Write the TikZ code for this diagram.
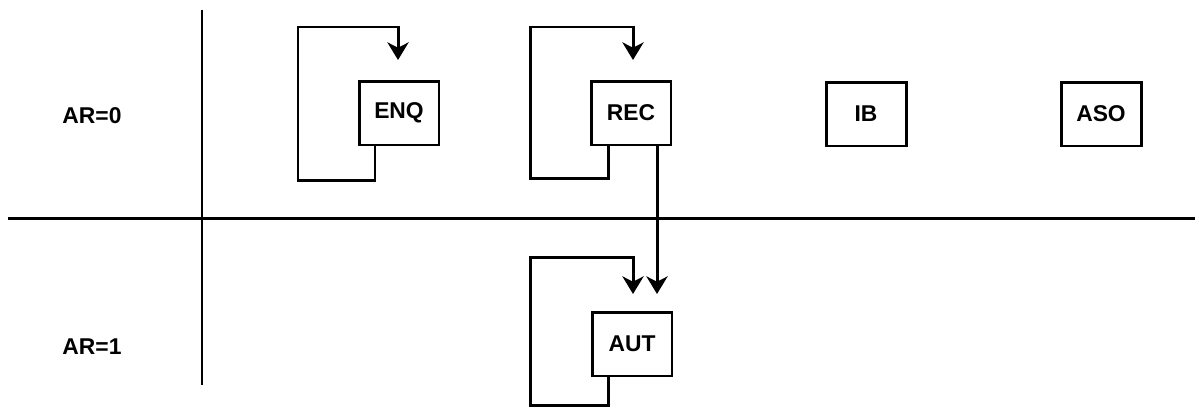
\documentclass[tikz,border=0pt]{standalone}
\usepackage{fontspec}
\setmainfont{Liberation Sans}
\usetikzlibrary{arrows.meta}

\begin{document}
\begin{tikzpicture}[x=0.02cm, y=-0.02cm, line width=1.7pt,
    state/.style={draw, line width=1.7pt, minimum width=1.6cm, minimum height=1.28cm, inner sep=0pt, font=\bfseries\fontsize{13}{15}\selectfont},
    lbl/.style={font=\bfseries\fontsize{13}{15}\selectfont},
    >={Stealth[length=10pt, width=12pt, inset=3pt]}]
    \useasboundingbox (0,0) rectangle (1199,410);

    % axes
    \draw (202,10) -- (202,385);
    \draw (8,218) -- (1195,218);

    \node[lbl] (ar0) at (92,116) {AR=0};
    \node[lbl] (ar1) at (92,347) {AR=1};

    \node[state] (enq) at (399,113) {ENQ};
    \node[state] (rec) at (631,113) {REC};
    \node[state] (ib) at (866,114) {IB};
    \node[state] (aso) at (1101,114) {ASO};
    \node[state] (aut) at (632,344) {AUT};

    % self loops
    \coordinate (enqin) at (398,60);
    \coordinate (recin) at (633,60);
    \coordinate (autin) at (633,294);
    \coordinate (autin2) at (657,294);

    \draw[->] (enq.south -| 375,0) -- (375,180) -- (298,180) -- (298,27) -- (398,27) -- (enqin);
    \draw[->] (rec.south -| 608,0) -- (608,178) -- (530,178) -- (530,27) -- (633,27) -- (recin);
    \draw[->] (aut.south -| 608,0) -- (608,405) -- (530,405) -- (530,257) -- (633,257) -- (autin);

    % transition
    \draw[->] (rec.south -| 657,0) -- (autin2);
\end{tikzpicture}
\end{document}
